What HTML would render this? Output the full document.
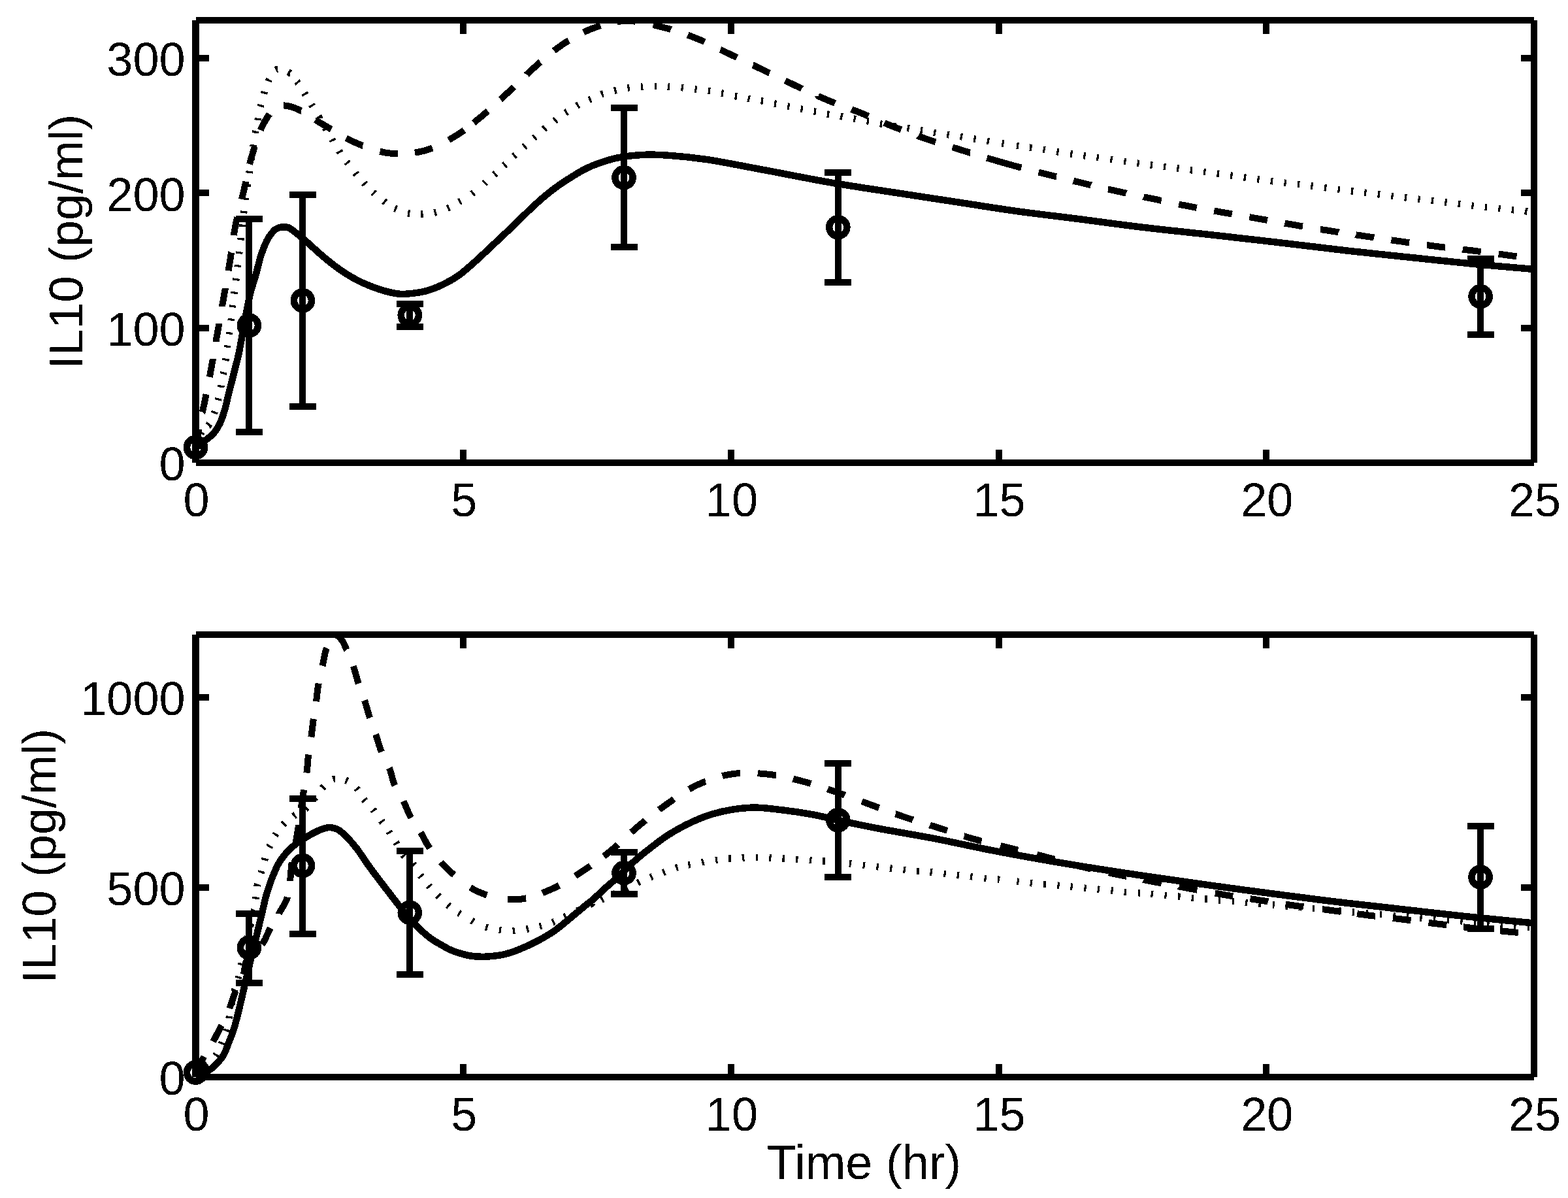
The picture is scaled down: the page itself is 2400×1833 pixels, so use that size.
<!DOCTYPE html>
<html><head><meta charset="utf-8"><title>IL10 plot</title>
<style>html,body{margin:0;padding:0;background:#fff;}body{width:2400px;height:1833px;overflow:hidden;}svg{display:block;}</style>
</head><body>
<svg width="2400" height="1833" viewBox="0 0 2400 1833" shape-rendering="crispEdges">
<style>.tl{font-family:'Liberation Sans', Arial, Helvetica, sans-serif;font-size:72px;fill:#000;filter:url(#crisp)}.yl{font-family:'Liberation Sans', Arial, Helvetica, sans-serif;font-size:73px;fill:#000;filter:url(#crisp)}.xl{font-family:'Liberation Sans', Arial, Helvetica, sans-serif;font-size:74px;fill:#000;filter:url(#crisp)}.c{fill:none;stroke:#000;stroke-width:10.5;stroke-linecap:butt;stroke-linejoin:round}.dt{stroke-width:10.5}</style>
<defs><filter id="crisp" x="0" y="0" width="100%" height="100%"><feComponentTransfer><feFuncA type="discrete" tableValues="0 1"/></feComponentTransfer></filter></defs>
<rect width="2400" height="1833" fill="#fff"/>
<path d="M299.5,685.0 C302.0,683.3 304.5,681.9 307.0,680.0 C309.8,677.9 312.4,675.6 315.4,673.0 C319.0,670.0 323.5,667.0 327.0,663.0 C330.8,658.5 334.2,652.9 337.0,647.0 C340.1,640.6 342.2,633.1 344.3,626.0 C346.4,618.8 347.8,611.2 349.6,604.0 C351.4,596.9 353.2,590.1 355.0,583.0 C356.8,575.9 358.6,568.6 360.4,561.4 C362.2,554.3 363.9,548.5 365.7,540.0 C368.4,527.5 371.3,508.8 374.2,493.5 C377.1,478.4 379.9,462.1 383.2,448.8 C385.9,437.9 389.1,429.2 391.9,419.3 C394.7,409.4 396.7,398.8 399.9,389.5 C402.8,381.0 406.6,371.5 409.8,365.7 C411.8,362.0 413.6,359.7 415.7,357.1 C417.6,354.8 419.3,352.4 421.7,350.8 C424.2,349.2 427.4,348.1 430.6,347.6 C434.0,347.1 437.9,347.1 441.3,348.2 C444.9,349.4 448.0,352.5 451.4,355.0 C455.2,357.8 459.6,361.7 463.0,364.5 C465.6,366.7 467.0,367.9 470.0,370.5 C475.6,375.4 485.8,385.0 493.8,391.8 C501.6,398.4 509.5,404.9 517.6,410.6 C525.4,416.1 532.9,421.2 541.4,425.8 C550.3,430.7 561.2,435.5 570.0,438.9 C577.2,441.7 583.1,443.7 590.0,445.5 C597.1,447.4 605.0,449.3 612.0,449.8 C618.3,450.3 623.6,449.7 630.0,449.0 C637.4,448.2 646.0,447.0 653.8,444.8 C661.8,442.5 669.8,439.2 677.6,435.5 C685.7,431.6 693.7,427.2 701.4,421.9 C709.6,416.2 716.9,409.4 725.2,402.1 C734.9,393.5 745.8,383.0 756.1,373.3 C766.6,363.5 777.2,353.5 787.6,343.6 C797.9,333.7 808.1,323.0 818.3,313.8 C827.7,305.2 837.0,297.2 846.5,290.0 C855.5,283.2 864.9,277.0 873.8,271.4 C881.9,266.3 889.5,261.5 897.6,257.6 C905.4,253.8 913.2,250.8 921.4,248.1 C929.8,245.3 937.8,242.8 947.6,241.0 C959.9,238.7 976.1,237.2 989.5,236.7 C1001.9,236.3 1012.0,237.0 1025.2,237.9 C1041.5,239.1 1059.8,240.9 1080.0,243.8 C1105.3,247.5 1135.2,253.7 1165.2,259.3 C1198.9,265.5 1236.6,273.3 1272.4,279.5 C1308.1,285.6 1345.3,290.9 1379.5,296.2 C1410.9,301.0 1440.3,305.5 1470.0,310.0 C1498.8,314.4 1526.0,318.9 1555.2,323.0 C1586.0,327.3 1618.7,330.9 1650.5,335.0 C1682.2,339.1 1712.5,343.4 1745.7,347.4 C1782.0,351.8 1823.2,355.9 1860.0,360.0 C1894.5,363.9 1926.7,367.5 1960.0,371.4 C1993.3,375.3 2026.7,379.5 2060.0,383.3 C2093.3,387.1 2126.7,390.5 2160.0,394.0 C2193.3,397.5 2227.7,401.2 2260.0,404.3 C2290.3,407.2 2318.7,409.4 2348.0,412.0" class="c"/>
<path d="M299.5,683.0L299.7,682.0L299.9,681.1L300.1,680.1L300.3,679.2L300.4,678.2L300.6,677.2L300.8,676.3L301.0,675.3L301.2,674.4L301.4,673.4L301.6,672.4L301.8,671.5L302.0,670.5L302.2,669.5L302.3,668.6L302.5,667.6L302.7,666.7L302.9,665.7L303.1,664.8L303.3,663.8L303.5,662.9L303.6,661.9L303.8,660.9L304.0,660.0L304.2,659.1L304.3,658.1L304.5,657.2L304.5,657.1M309.6,630.6L309.7,630.5L309.9,629.7L310.1,628.9L310.3,628.1L310.5,627.3L310.7,626.4L310.9,625.6L311.1,624.7L311.3,623.8L311.5,622.9L311.7,622.0L311.9,621.1L312.1,620.1L312.3,619.1L312.6,618.1L312.8,617.0L313.2,615.2L313.6,613.4L314.0,611.5L314.4,609.5L314.8,607.4L315.2,605.3L315.6,603.3M320.8,576.8L321.2,574.7L321.7,572.3L322.1,569.9L322.5,567.6L323.0,565.3L323.4,563.0L323.8,560.8L324.2,558.5L324.6,556.3L325.0,554.0L325.4,551.8L325.9,549.5L325.9,549.2M330.5,522.8L330.5,522.5L330.9,520.2L331.3,518.0L331.7,515.7L332.1,513.5L332.5,511.2L332.9,509.0L333.3,506.8L333.7,504.5L334.1,502.3L334.5,500.0L334.9,497.8L335.3,495.6L335.3,495.2M340.0,469.0L340.0,468.7L340.4,466.4L340.8,464.2L341.2,461.9L341.6,459.7L342.0,457.5L342.4,455.2L342.8,452.9L343.2,450.7L343.6,448.4L344.0,446.1L344.4,443.8L344.8,441.5L344.8,441.4M349.6,414.2L349.6,414.1L350.0,411.8L350.4,409.5L350.8,407.2L351.1,405.0L351.5,402.7L351.9,400.4L352.3,398.1L352.6,395.9L353.0,393.6L353.3,391.3L353.6,389.1L353.9,386.8L354.0,386.6M357.8,359.9L357.8,359.7L358.2,357.4L358.6,355.1L358.9,352.9L359.4,350.6L359.8,348.4L360.2,346.1L360.7,343.8L361.1,341.5L361.6,339.2L362.1,336.9L362.6,334.7L363.1,332.4M370.0,304.9L370.5,302.7L371.1,300.4L371.7,298.1L372.2,295.8L372.8,293.6L373.3,291.3L373.8,289.1L374.3,286.8L374.8,284.6L375.3,282.3L375.8,280.1L376.3,277.8L376.3,277.6M382.1,251.2L382.2,250.9L382.8,248.7L383.3,246.5L383.9,244.3L384.5,242.1L385.2,239.9L385.8,237.7L386.5,235.5L387.1,233.3L387.8,231.0L388.5,228.8L389.2,226.5L389.9,224.3M398.8,199.1L399.4,197.6L400.2,195.6L401.1,193.7L402.1,191.8L403.0,190.0L403.9,188.2L404.9,186.5L405.6,185.3L406.4,184.0L407.1,182.8L407.9,181.5L408.6,180.3L409.4,179.1L410.2,177.9L411.0,176.7L411.8,175.6L412.4,174.7M434.0,161.4L434.7,161.4L435.7,161.5L436.6,161.6L437.6,161.7L438.5,161.8L439.5,162.0L440.5,162.2L441.5,162.4L442.5,162.6L443.5,162.9L444.5,163.1L445.6,163.4L446.6,163.7L447.7,164.0L449.4,164.5L451.1,165.2L452.9,165.9L454.7,166.7L456.6,167.6L458.4,168.5L460.4,169.6L460.5,169.6M482.8,183.4L484.7,184.6L486.8,185.9L488.8,187.2L490.8,188.4L492.8,189.6L494.8,190.7L496.8,191.8L498.7,193.0L500.7,194.1L502.6,195.3L504.6,196.5L506.5,197.6L506.9,197.8M529.7,211.3L530.1,211.5L532.1,212.6L534.1,213.6L536.1,214.6L538.2,215.6L540.2,216.6L542.3,217.5L544.4,218.4L546.5,219.3L548.6,220.2L550.7,221.1L552.9,222.0L555.0,222.9L555.2,222.9M581.5,231.7L583.6,232.2L585.9,232.7L588.1,233.2L590.3,233.6L592.6,233.9L594.8,234.2L597.0,234.5L599.3,234.7L601.6,234.9L603.8,235.0L606.1,235.1L608.4,235.2L609.2,235.2M634.9,233.6L636.1,233.4L638.4,233.0L640.6,232.6L642.9,232.1L645.1,231.7L647.3,231.2L649.5,230.6L651.7,230.0L653.9,229.3L656.0,228.6L658.2,227.9L660.4,227.1L662.0,226.5M686.8,214.2L687.7,213.7L689.7,212.6L691.6,211.4L693.6,210.3L695.5,209.1L697.4,207.9L699.3,206.8L701.0,205.8L702.7,204.7L704.3,203.6L705.9,202.5L707.5,201.4L709.1,200.3L710.5,199.3M725.2,187.9L725.7,187.5L727.2,186.3L728.6,185.1L730.1,183.8L731.6,182.6L733.1,181.3L734.7,180.1L736.2,178.8L737.9,177.4L739.5,176.0L741.2,174.6L742.9,173.1L744.6,171.7L746.2,170.2L746.6,169.9M766.1,152.1L766.4,151.9L768.1,150.3L769.7,148.8L771.4,147.2L773.1,145.7L774.7,144.1L776.4,142.6L778.1,141.0L779.7,139.5L781.4,137.9L783.1,136.3L784.7,134.7L786.4,133.1L786.5,133.0M806.1,114.0L806.2,113.8L807.9,112.3L809.6,110.7L811.3,109.1L813.0,107.6L814.7,106.0L816.4,104.5L818.1,103.0L819.8,101.4L821.6,99.9L823.3,98.4L825.0,96.9L826.7,95.3L826.9,95.2M847.7,77.7L847.9,77.5L849.7,76.1L851.6,74.8L853.4,73.4L855.3,72.1L857.1,70.8L859.0,69.5L860.9,68.2L862.7,67.0L864.6,65.8L866.5,64.5L868.4,63.3L870.3,62.1L870.7,61.9M893.3,49.3L893.9,49.0L896.0,48.1L898.0,47.2L900.0,46.3L902.1,45.4L904.1,44.6L906.2,43.8L908.3,43.0L910.3,42.3L912.4,41.5L914.5,40.8L916.6,40.1L918.8,39.4L919.4,39.2M944.7,33.2L944.8,33.2L947.0,32.9L949.2,32.6L951.4,32.4L953.6,32.2L955.8,32.1L958.0,32.0L960.3,32.0L962.5,32.0L964.8,32.1L967.1,32.2L969.4,32.4L971.7,32.6L972.6,32.7M999.7,38.0L1001.9,38.5L1004.2,39.1L1006.5,39.7L1008.8,40.3L1011.0,40.8L1013.3,41.4L1015.5,42.0L1017.8,42.5L1020.0,43.1L1022.2,43.7L1024.4,44.4L1026.6,45.0L1026.8,45.1M1052.6,53.6L1052.8,53.7L1055.0,54.5L1057.2,55.3L1059.3,56.1L1061.4,56.9L1063.6,57.8L1065.7,58.6L1067.8,59.5L1069.9,60.3L1072.0,61.2L1074.1,62.1L1076.2,63.0L1078.3,64.0L1078.5,64.1M1102.6,75.8L1102.9,75.9L1104.9,76.9L1107.0,77.9L1109.0,78.9L1111.1,79.9L1113.1,80.9L1115.2,81.9L1117.3,82.9L1119.4,83.9L1121.4,84.9L1123.5,85.8L1125.6,86.8L1127.7,87.8L1127.9,87.9M1152.6,99.7L1152.7,99.7L1154.8,100.7L1156.9,101.7L1159.0,102.7L1161.0,103.7L1163.1,104.7L1165.2,105.7L1167.3,106.7L1169.3,107.7L1171.4,108.7L1173.4,109.7L1175.5,110.7L1177.5,111.7L1177.8,111.8M1201.9,123.5L1202.1,123.6L1204.2,124.6L1206.2,125.6L1208.3,126.6L1210.4,127.5L1212.4,128.5L1214.5,129.5L1216.6,130.5L1218.7,131.5L1220.8,132.5L1222.9,133.4L1225.0,134.4L1227.1,135.4L1227.2,135.5M1252.4,147.0L1252.4,147.1L1254.6,148.0L1256.7,148.9L1258.8,149.9L1260.9,150.8L1263.1,151.7L1265.2,152.6L1267.3,153.5L1269.4,154.4L1271.6,155.2L1273.7,156.1L1275.8,156.9L1278.0,157.7L1278.2,157.8M1303.4,167.3L1303.6,167.4L1305.8,168.2L1307.9,169.1L1310.0,169.9L1312.2,170.7L1314.3,171.6L1316.4,172.4L1318.5,173.2L1320.6,174.1L1322.7,175.0L1324.8,175.8L1326.8,176.7L1328.9,177.6L1329.3,177.8M1353.4,188.0L1353.8,188.2L1355.9,189.0L1358.0,189.9L1360.1,190.8L1362.2,191.6L1364.3,192.5L1366.4,193.3L1368.6,194.2L1370.7,195.0L1372.9,195.9L1375.1,196.7L1377.2,197.5L1379.4,198.4L1379.4,198.4M1405.6,208.2L1405.7,208.3L1407.9,209.1L1410.1,209.9L1412.3,210.6L1414.5,211.4L1416.6,212.2L1418.8,212.9L1420.9,213.6L1422.9,214.3L1424.9,215.0L1427.0,215.7L1429.0,216.3L1431.0,217.0L1432.1,217.3M1457.8,225.4L1459.3,225.8L1461.5,226.5L1463.6,227.1L1465.8,227.8L1468.0,228.5L1470.6,229.3L1473.3,230.2L1476.0,231.0L1478.8,231.8L1481.6,232.7L1484.4,233.6L1484.6,233.6M1510.5,241.6L1513.4,242.5L1516.4,243.4L1519.3,244.2L1522.3,245.1L1525.2,246.0L1528.1,246.8L1531.0,247.7L1533.8,248.5L1536.7,249.3L1539.5,250.1L1542.3,250.9L1545.1,251.7L1547.9,252.4L1550.7,253.2L1553.5,254.0L1556.3,254.7L1559.1,255.5L1561.9,256.2L1563.4,256.6M1589.6,263.5L1592.3,264.2L1595.0,264.9L1597.6,265.6L1600.3,266.2L1602.9,266.9L1605.2,267.5L1607.6,268.1L1609.9,268.7L1612.1,269.2L1614.4,269.8L1616.7,270.4L1616.8,270.4M1642.8,276.7L1643.1,276.8L1645.3,277.3L1647.5,277.9L1649.7,278.4L1652.0,278.9L1654.2,279.5L1656.4,280.0L1658.6,280.5L1660.9,281.1L1663.1,281.6L1665.3,282.1L1667.6,282.7L1669.8,283.2L1670.0,283.3M1696.3,289.5L1696.6,289.5L1698.8,290.1L1701.0,290.6L1703.3,291.1L1705.5,291.6L1707.8,292.1L1710.0,292.6L1712.2,293.1L1714.5,293.6L1716.7,294.1L1719.0,294.6L1721.2,295.1L1723.5,295.5L1723.7,295.6M1750.3,301.1L1750.5,301.2L1752.8,301.7L1755.0,302.1L1757.3,302.6L1759.5,303.1L1761.8,303.5L1764.0,304.0L1766.2,304.5L1768.4,304.9L1770.6,305.4L1772.8,305.9L1775.0,306.3L1777.1,306.8L1777.7,306.9M1804.3,312.5L1805.7,312.8L1808.0,313.3L1810.3,313.8L1812.7,314.2L1815.1,314.7L1817.6,315.2L1820.7,315.8L1823.8,316.4L1827.1,317.0L1830.3,317.6L1831.8,317.9M1858.3,322.7L1861.3,323.2L1864.8,323.8L1868.4,324.4L1872.0,325.1L1875.5,325.7L1879.1,326.3L1882.6,326.9L1885.8,327.5M1912.3,332.2L1913.6,332.4L1917.0,333.0L1920.5,333.6L1923.9,334.2L1927.4,334.8L1930.8,335.4L1934.3,336.0L1937.7,336.6L1939.9,337.0M1966.4,341.6L1967.7,341.9L1970.9,342.4L1974.1,342.9L1977.1,343.5L1980.2,344.0L1982.7,344.4L1985.1,344.8L1987.5,345.2L1989.9,345.7L1992.3,346.1L1994.0,346.3M2021.2,350.9L2021.6,350.9L2023.8,351.3L2026.0,351.7L2028.2,352.0L2030.5,352.4L2032.7,352.7L2035.0,353.1L2037.3,353.5L2039.5,353.8L2041.8,354.2L2044.1,354.5L2046.3,354.9L2048.6,355.2L2048.8,355.3M2075.5,359.3L2075.7,359.4L2078.0,359.7L2080.3,360.0L2082.5,360.4L2084.8,360.7L2087.0,361.1L2089.3,361.4L2091.6,361.7L2093.8,362.1L2096.1,362.4L2098.3,362.7L2100.6,363.1L2102.8,363.4L2103.1,363.5M2129.4,367.3L2129.8,367.4L2132.0,367.7L2134.3,368.0L2136.5,368.3L2138.8,368.7L2141.0,369.0L2143.3,369.3L2145.6,369.6L2147.9,369.9L2150.1,370.3L2152.4,370.6L2154.7,370.9L2157.0,371.3L2157.2,371.3M2184.2,375.1L2184.4,375.1L2186.7,375.4L2189.0,375.7L2191.2,376.0L2193.5,376.3L2195.8,376.6L2198.1,376.9L2200.4,377.2L2202.7,377.5L2204.9,377.8L2207.2,378.0L2209.5,378.3L2211.8,378.6L2212.0,378.6M2239.0,381.6L2239.2,381.7L2241.5,381.9L2243.8,382.2L2246.1,382.5L2248.3,382.7L2250.6,383.0L2252.9,383.3L2255.2,383.6L2257.5,383.9L2259.8,384.2L2262.1,384.5L2264.4,384.8L2266.8,385.1L2266.8,385.1M2293.7,388.6L2294.5,388.7L2296.7,389.0L2299.0,389.3L2301.2,389.6L2303.3,389.9L2305.5,390.2L2307.6,390.5L2309.4,390.7L2311.2,391.0L2312.9,391.2L2314.7,391.5L2316.4,391.7L2318.1,391.9L2319.8,392.2L2321.5,392.4" class="c" style="stroke-width:10"/>
<path d="M299.8,682.4L299.9,682.1L300.1,681.6L300.2,681.2L300.4,680.7L300.6,680.2L300.8,679.8L301.0,679.3L301.0,679.3M307.5,663.4L307.6,663.2L307.9,662.8L308.1,662.4L308.4,662.0L308.8,661.5L309.1,661.0L309.4,660.7M318.9,651.1L319.1,651.0L319.5,650.4L319.9,649.8L320.3,649.1L320.8,648.4L320.8,648.4M327.6,632.6L327.9,631.9L328.2,631.1L328.5,630.3L328.8,629.5M333.7,612.5L333.9,611.7L334.1,610.9L334.3,610.1L334.5,609.3M338.1,592.8L338.2,592.0L338.4,591.2L338.6,590.4L338.7,589.6M341.6,572.5L341.8,571.8L341.9,570.9L342.0,570.0L342.2,569.3M345.1,551.8L345.3,551.1L345.4,550.2L345.5,549.4L345.6,548.6M347.9,531.7L348.0,530.9L348.1,530.1L348.2,529.3L348.3,528.5M350.8,511.5L350.9,510.7L351.0,509.9L351.1,509.0L351.2,508.3M353.6,490.6L353.7,489.9L353.8,489.0L353.9,488.1L354.0,487.4M355.8,470.2L355.9,469.5L356.0,468.6L356.1,467.7L356.2,467.0M358.4,449.6L358.5,448.9L358.6,448.0L358.7,447.1L358.8,446.4M361.2,429.2L361.3,428.5L361.4,427.6L361.5,426.7L361.6,426.0M363.6,408.5L363.7,407.8L363.8,406.9L363.9,406.1L364.0,405.3M366.0,388.3L366.1,387.5L366.2,386.7L366.3,385.8L366.4,385.1M368.4,367.3L368.5,366.7L368.6,365.7L368.8,364.3L368.8,364.1M370.7,346.7L370.7,346.5L370.9,344.7L371.1,343.5M373.1,326.1L373.3,324.5L373.5,322.9M375.8,305.7L375.9,304.5L376.2,302.5M378.6,285.3L378.9,283.2L379.0,282.1M381.5,264.9L381.7,263.3L381.9,261.7M384.3,244.7L384.5,243.5L384.8,241.7L384.8,241.5M387.3,224.5L387.4,224.3L387.6,222.9L387.8,221.9L387.9,221.3M390.9,203.7L391.0,202.9L391.2,202.1L391.3,201.3L391.5,200.5M394.5,184.0L394.6,183.2L394.8,182.4L395.0,181.5L395.1,180.8M398.6,163.3L398.8,162.6L399.0,161.7L399.2,160.9L399.4,160.1M403.8,143.5L404.0,142.7L404.3,141.9L404.6,141.1L404.8,140.3M410.7,124.4L411.0,123.6L411.4,122.9L411.8,122.1L412.2,121.4M421.8,106.9L422.0,106.8L422.7,106.5L423.3,106.2L424.0,106.0L424.7,105.8L424.9,105.8M441.0,110.2L441.0,110.2L441.7,110.6L442.4,111.0L443.1,111.4L443.7,111.9L443.8,111.9M454.5,124.7L455.0,125.3L455.5,126.0L456.0,126.7L456.5,127.3M465.8,142.4L466.2,143.1L466.7,143.8L467.2,144.5L467.6,145.2M476.7,160.0L477.0,160.5L477.6,161.4L478.5,162.8M487.3,177.7L487.5,178.0L488.9,180.4L488.9,180.5M497.7,195.4L497.7,195.4L499.1,197.8L499.4,198.2M508.2,213.1L509.0,214.5L509.6,215.4L509.8,215.9M518.9,231.0L519.3,231.7L519.8,232.4L520.3,233.1L520.7,233.8M530.7,247.7L531.2,248.3L531.7,249.0L532.2,249.7L532.7,250.3M543.8,264.4L544.2,265.0L544.8,265.7L545.3,266.4L545.8,267.0M556.8,280.0L557.3,280.6L557.9,281.2L558.5,281.8L559.0,282.4M570.9,294.4L571.5,294.9L572.1,295.5L572.8,296.1L573.3,296.6M587.5,307.6L588.1,308.1L588.8,308.6L589.5,309.1L590.1,309.6M604.0,318.6L604.8,318.9L605.5,319.3L606.3,319.7L607.0,320.0M624.1,326.1L624.8,326.2L625.7,326.4L626.5,326.6L627.3,326.7M644.4,327.6L645.2,327.6L646.0,327.6L646.8,327.6L647.6,327.5M664.6,325.6L665.4,325.4L666.2,325.2L667.1,325.0L667.8,324.8M684.8,318.7L685.5,318.4L686.3,318.0L687.1,317.6L687.8,317.3M702.6,309.1L703.3,308.7L704.0,308.3L704.8,307.8L705.4,307.5M722.5,296.7L723.0,296.3L723.8,295.7L724.6,295.1L725.1,294.7M740.9,280.9L741.4,280.4L742.1,279.8L742.8,279.2L743.3,278.7M756.4,267.3L757.0,266.8L757.6,266.2L758.2,265.6L758.8,265.1M771.4,253.5L772.0,253.0L772.6,252.4L773.2,251.8L773.8,251.3M786.2,239.2L786.8,238.7L787.4,238.1L788.0,237.5L788.6,237.0M801.7,224.9L802.3,224.4L802.9,223.8L803.5,223.2L804.1,222.7M817.1,211.3L817.7,210.8L818.3,210.2L818.9,209.6L819.5,209.1M832.5,197.7L833.1,197.1L833.8,196.6L834.5,196.1L835.1,195.6M848.7,185.0L849.3,184.5L850.0,184.0L850.7,183.5L851.3,183.0M865.4,172.8L866.1,172.4L866.8,171.9L867.5,171.4L868.2,171.0M882.9,162.0L883.5,161.6L884.3,161.2L885.1,160.8L885.8,160.4M901.6,153.0L902.3,152.7L903.1,152.3L903.9,151.9L904.6,151.6M920.2,144.4L920.9,144.1L921.7,143.8L922.5,143.5L923.3,143.3M940.3,138.7L941.1,138.5L941.9,138.3L942.7,138.1L943.5,137.9M960.5,134.5L961.3,134.4L962.1,134.3L962.9,134.2L963.7,134.1M980.8,132.5L981.5,132.5L982.4,132.4L983.3,132.4L984.0,132.3M1001.5,131.9L1002.2,131.9L1003.1,131.9L1004.0,131.9L1004.7,131.9M1022.0,132.5L1022.7,132.6L1023.6,132.6L1024.5,132.7L1025.2,132.7M1042.7,134.1L1043.4,134.2L1044.3,134.3L1045.2,134.4L1045.9,134.5M1063.4,136.5L1064.1,136.6L1065.0,136.7L1065.9,136.8L1066.6,136.9M1083.9,138.8L1084.7,138.9L1085.5,139.0L1086.3,139.1L1087.1,139.2M1104.1,142.3L1104.9,142.4L1105.7,142.6L1106.6,142.8L1107.3,142.9M1124.8,147.1L1125.5,147.2L1126.4,147.4L1127.2,147.6L1128.0,147.7M1144.6,150.7L1145.4,150.9L1146.2,151.0L1147.0,151.1L1147.8,151.3M1164.8,154.2L1165.6,154.3L1166.4,154.5L1167.2,154.7L1168.0,154.8M1185.1,158.3L1185.9,158.4L1186.7,158.6L1187.5,158.8L1188.3,158.9M1205.3,162.6L1206.1,162.7L1206.9,162.9L1207.7,163.1L1208.5,163.2M1225.5,166.6L1226.3,166.7L1227.1,166.9L1227.9,167.1L1228.7,167.2M1245.8,170.4L1246.6,170.5L1247.4,170.7L1248.2,170.9L1249.0,171.0M1266.0,174.5L1266.8,174.6L1267.6,174.8L1268.4,175.0L1269.2,175.1M1286.3,178.0L1287.1,178.2L1287.9,178.3L1288.7,178.4L1289.5,178.6M1306.5,181.6L1307.3,181.7L1308.1,181.9L1308.9,182.0L1309.7,182.2M1326.7,185.2L1327.5,185.3L1328.3,185.5L1329.1,185.7L1329.9,185.8M1347.0,189.2L1347.6,189.3L1348.6,189.5L1350.0,189.8L1350.2,189.8M1367.8,192.7L1368.5,192.8L1370.3,193.1L1371.0,193.2M1388.6,195.9L1390.2,196.2L1391.8,196.5M1408.8,199.3L1410.5,199.6L1412.1,199.8M1429.1,202.6L1430.7,202.9L1432.3,203.2M1449.4,205.9L1451.0,206.1L1452.7,206.4M1469.8,209.0L1471.4,209.3L1473.0,209.6M1490.3,212.4L1491.8,212.6L1493.5,212.9L1493.5,212.9M1510.8,215.7L1512.4,216.0L1514.0,216.3M1533.4,219.2L1535.0,219.5L1536.6,219.7M1556.0,222.7L1557.6,222.9L1559.2,223.1M1576.2,225.7L1576.3,225.7L1578.0,226.0L1579.5,226.2M1596.5,228.8L1598.1,229.0L1599.7,229.3M1617.3,232.0L1619.0,232.3L1620.6,232.5M1638.2,235.3L1639.8,235.5L1641.4,235.7M1658.4,238.1L1660.0,238.3L1661.6,238.5M1678.6,240.8L1680.2,241.0L1681.8,241.2M1699.4,243.7L1701.0,243.9L1702.7,244.2M1720.3,246.7L1721.9,246.9L1723.5,247.1M1740.5,249.6L1742.2,249.8L1743.8,250.0M1760.8,252.4L1762.4,252.6L1764.0,252.8M1781.0,254.9L1782.6,255.1L1784.3,255.3M1801.3,257.4L1802.9,257.6L1804.5,257.8M1821.7,260.0L1822.8,260.1L1824.5,260.4L1825.0,260.4M1842.2,262.7L1843.8,262.9L1845.4,263.1M1862.7,265.5L1863.3,265.6L1865.8,266.0L1866.0,266.0M1883.2,268.5L1884.1,268.6L1886.5,268.9M1903.8,271.3L1905.0,271.5L1907.1,271.8M1924.3,274.1L1926.1,274.4L1927.6,274.6M1944.9,276.9L1947.3,277.3L1948.2,277.4M1965.5,279.6L1967.1,279.8L1968.7,280.0M1985.9,282.0L1986.4,282.0L1988.1,282.2L1989.2,282.3M2006.4,284.3L2008.0,284.5L2009.6,284.7M2027.0,287.0L2028.7,287.2L2030.3,287.5M2047.7,289.8L2049.3,290.0L2050.9,290.2M2067.9,292.2L2069.6,292.4L2071.2,292.6M2088.2,294.6L2089.8,294.8L2091.4,295.0M2108.8,297.2L2110.4,297.4L2112.0,297.6M2129.4,299.8L2131.0,300.0L2132.6,300.2M2149.9,302.2L2151.5,302.4L2153.1,302.6M2170.4,304.6L2172.0,304.8L2173.6,305.0M2190.8,306.9L2192.4,307.1L2194.1,307.3M2211.3,309.3L2212.9,309.5L2214.5,309.7M2231.8,312.0L2233.4,312.2L2235.1,312.4M2252.4,314.6L2254.0,314.8L2255.6,315.0M2272.9,316.8L2274.5,317.0L2276.1,317.1M2293.4,318.8L2295.0,319.0L2296.6,319.2M2313.7,321.0L2315.0,321.1L2316.8,321.3L2317.0,321.3M2334.1,323.1L2334.5,323.2L2335.7,323.3L2336.3,323.4L2337.0,323.4L2337.3,323.5" class="c" style="stroke-width:10.5"/>
<path d="M381.4,334.5 V661.0 M360.9,334.5 H401.9 M360.9,661.0 H401.9 M463.4,298.0 V622.0 M442.9,298.0 H483.9 M442.9,622.0 H483.9 M627.3,464.8 V500.0 M606.8,464.8 H647.8 M606.8,500.0 H647.8 M955.0,165.2 V378.3 M934.5,165.2 H975.5 M934.5,378.3 H975.5 M1282.8,263.9 V432.0 M1262.3,263.9 H1303.3 M1262.3,432.0 H1303.3 M2266.1,396.2 V511.9 M2245.6,396.2 H2286.6 M2245.6,511.9 H2286.6" stroke="#000" stroke-width="10" fill="none"/>
<circle cx="299.5" cy="684.5" r="13.6" stroke="#000" stroke-width="10.5" fill="none"/>
<circle cx="381.4" cy="498.0" r="13.6" stroke="#000" stroke-width="10.5" fill="none"/>
<circle cx="463.4" cy="459.8" r="13.6" stroke="#000" stroke-width="10.5" fill="none"/>
<circle cx="627.3" cy="482.2" r="13.6" stroke="#000" stroke-width="10.5" fill="none"/>
<circle cx="955.0" cy="271.7" r="13.6" stroke="#000" stroke-width="10.5" fill="none"/>
<circle cx="1282.8" cy="347.8" r="13.6" stroke="#000" stroke-width="10.5" fill="none"/>
<circle cx="2266.1" cy="453.6" r="13.6" stroke="#000" stroke-width="10.5" fill="none"/>
<path d="M299.5,31.0 H2348.0 M299.5,708.0 H2348.0 M299.5,31.0 V708.0 M2348.0,31.0 V708.0" stroke="#000" stroke-width="10.5" fill="none" stroke-linecap="butt"/>
<path d="M299.5,708.0 V687.5 M299.5,31.0 V51.5 M709.2,708.0 V687.5 M709.2,31.0 V51.5 M1118.9,708.0 V687.5 M1118.9,31.0 V51.5 M1528.6,708.0 V687.5 M1528.6,31.0 V51.5 M1938.3,708.0 V687.5 M1938.3,31.0 V51.5 M2348.0,708.0 V687.5 M2348.0,31.0 V51.5 M299.5,708.0 H320.0 M2348.0,708.0 H2327.5 M299.5,501.7 H320.0 M2348.0,501.7 H2327.5 M299.5,295.3 H320.0 M2348.0,295.3 H2327.5 M299.5,89.0 H320.0 M2348.0,89.0 H2327.5" stroke="#000" stroke-width="10.0" fill="none"/>
<text x="300.5" y="790.0" text-anchor="middle" class="tl">0</text>
<text x="710.2" y="790.0" text-anchor="middle" class="tl">5</text>
<text x="1119.9" y="790.0" text-anchor="middle" class="tl">10</text>
<text x="1529.6" y="790.0" text-anchor="middle" class="tl">15</text>
<text x="1939.3" y="790.0" text-anchor="middle" class="tl">20</text>
<text x="2349.0" y="790.0" text-anchor="middle" class="tl">25</text>
<text x="283.5" y="735.3" text-anchor="end" class="tl">0</text>
<text x="283.5" y="529.0" text-anchor="end" class="tl">100</text>
<text x="283.5" y="322.6" text-anchor="end" class="tl">200</text>
<text x="283.5" y="116.3" text-anchor="end" class="tl">300</text>
<text transform="translate(126.3,369.5) rotate(-90)" text-anchor="middle" class="yl">IL10 (pg/ml)</text>
<path d="M299.5,1641.0 C302.3,1641.2 305.4,1641.7 308.0,1641.5 C310.3,1641.3 312.1,1641.0 314.3,1640.2 C317.2,1639.1 320.7,1637.1 323.8,1634.8 C327.4,1632.1 331.1,1628.4 334.3,1624.8 C337.5,1621.1 340.5,1617.2 342.9,1612.9 C345.4,1608.5 346.9,1603.4 348.8,1598.6 C350.7,1593.8 352.7,1589.1 354.5,1584.3 C356.2,1579.6 357.6,1575.6 359.3,1570.0 C361.6,1562.3 364.1,1551.8 366.5,1542.0 C369.1,1531.2 371.8,1519.2 374.4,1508.0 C376.9,1497.2 379.6,1486.0 382.0,1476.0 C384.1,1467.3 385.8,1459.7 387.8,1451.5 C389.8,1443.4 391.7,1435.6 393.8,1427.1 C396.0,1418.0 398.4,1408.1 400.7,1398.6 C403.0,1389.1 405.0,1378.8 407.5,1370.0 C409.7,1362.3 412.3,1354.7 414.5,1348.5 C416.2,1343.7 417.7,1340.2 419.5,1336.0 C421.4,1331.5 423.2,1326.8 425.7,1322.4 C428.3,1317.8 431.8,1312.8 434.8,1309.0 C437.2,1305.9 439.1,1303.8 441.9,1301.0 C445.3,1297.6 449.5,1293.9 454.0,1290.5 C459.1,1286.7 465.3,1282.8 471.0,1279.5 C476.4,1276.4 481.6,1273.3 487.1,1271.0 C492.4,1268.8 498.0,1266.3 503.2,1266.1 C508.0,1265.9 512.8,1267.2 517.1,1269.3 C521.8,1271.6 525.6,1275.8 530.0,1280.0 C535.2,1285.1 541.0,1291.8 546.0,1298.2 C551.0,1304.7 555.6,1312.3 560.0,1318.6 C563.9,1324.1 566.6,1327.9 571.0,1333.8 C577.3,1342.2 586.5,1354.2 594.3,1364.3 C602.1,1374.4 609.9,1384.9 617.8,1394.3 C625.2,1403.1 632.6,1411.7 640.0,1419.0 C646.6,1425.5 653.6,1431.7 660.0,1436.4 C665.2,1440.2 670.0,1442.6 675.0,1445.5 C680.0,1448.3 684.9,1451.4 690.0,1453.6 C694.9,1455.8 700.0,1457.3 705.0,1458.8 C710.0,1460.3 714.5,1461.7 720.0,1462.5 C726.4,1463.5 733.2,1464.0 740.9,1463.8 C750.4,1463.5 761.9,1462.6 772.7,1460.0 C784.6,1457.1 797.2,1451.9 809.1,1446.4 C821.4,1440.7 833.7,1434.3 845.5,1426.4 C858.0,1418.1 871.8,1405.4 881.8,1397.3 C888.9,1391.5 895.5,1385.9 900.0,1382.3 C902.6,1380.2 903.6,1379.7 906.2,1377.5 C911.1,1373.4 920.7,1363.9 926.4,1358.8 C930.5,1355.1 932.5,1353.6 937.1,1349.5 C946.0,1341.5 965.3,1322.4 975.2,1313.8 C981.2,1308.6 984.2,1306.3 990.0,1301.8 C998.2,1295.4 1009.7,1286.2 1019.8,1279.5 C1029.5,1273.1 1038.6,1267.7 1049.5,1262.3 C1061.8,1256.3 1075.0,1249.9 1090.0,1245.6 C1107.6,1240.6 1130.3,1236.5 1149.0,1235.7 C1165.7,1234.9 1180.8,1237.5 1196.7,1239.3 C1212.6,1241.1 1229.4,1243.6 1244.3,1246.4 C1257.6,1248.9 1268.0,1251.8 1281.9,1254.8 C1299.0,1258.5 1318.1,1262.6 1339.5,1266.7 C1366.2,1271.9 1400.3,1277.3 1430.0,1283.0 C1458.9,1288.6 1486.0,1294.8 1515.2,1300.5 C1546.0,1306.5 1578.7,1312.4 1610.5,1317.9 C1642.2,1323.4 1675.9,1328.7 1705.7,1333.3 C1732.0,1337.4 1754.0,1340.5 1780.0,1344.3 C1808.6,1348.4 1840.0,1352.9 1870.0,1357.0 C1900.0,1361.1 1929.6,1365.1 1960.0,1369.0 C1991.3,1373.1 2023.4,1377.2 2055.2,1381.0 C2086.9,1384.8 2118.7,1388.1 2150.5,1391.7 C2182.2,1395.3 2213.4,1399.0 2245.7,1402.4 C2279.2,1405.9 2313.9,1409.1 2348.0,1412.5" class="c"/>
<path d="M299.5,1640.0L299.7,1639.6L300.0,1639.2L300.2,1638.8L300.4,1638.3L300.6,1637.9L300.9,1637.5L301.1,1637.1L301.3,1636.7L301.5,1636.3L301.8,1635.9L302.0,1635.5L302.2,1635.1L302.4,1634.7L302.7,1634.3L302.9,1633.8L303.1,1633.4L303.3,1633.0L303.6,1632.6L303.8,1632.2L304.0,1631.7L304.3,1631.3L304.5,1630.9L304.8,1630.4L305.0,1630.0L305.3,1629.5L305.6,1629.0L305.8,1628.5L306.1,1628.0L306.4,1627.5L306.6,1627.0L306.9,1626.5L307.2,1626.0L307.5,1625.4L307.8,1624.9L308.0,1624.4L308.3,1623.9L308.6,1623.4L308.9,1622.8L309.2,1622.3L309.5,1621.7L309.8,1621.2L310.1,1620.6L310.4,1620.1L310.7,1619.5L311.1,1618.9L311.4,1618.3L311.8,1617.7L312.1,1617.1L312.3,1616.7M326.2,1593.6L326.4,1593.2L327.0,1592.2L327.5,1591.2L328.1,1590.1L328.6,1589.1L329.2,1588.1L329.8,1587.0L330.3,1586.0L330.8,1584.9L331.4,1583.9L331.9,1582.9L332.5,1581.8L333.0,1580.8L333.5,1579.7L334.1,1578.7L334.6,1577.6L335.1,1576.6L335.7,1575.5L336.2,1574.5L336.7,1573.4L337.2,1572.4L337.7,1571.3L338.3,1570.3L338.8,1569.2L339.1,1568.7M351.2,1543.0L351.5,1542.1L352.0,1541.0L352.4,1539.9L352.8,1538.8L353.2,1537.7L353.6,1536.6L354.0,1535.4L354.4,1534.3L354.8,1533.2L355.1,1532.0L355.5,1530.9L355.9,1529.8L356.3,1528.7L356.6,1527.5L357.0,1526.4L357.4,1525.3L357.8,1524.1L358.2,1523.0L358.6,1521.9L359.0,1520.8L359.4,1519.7L359.8,1518.6L360.3,1517.5L360.6,1516.6M372.7,1491.1L372.8,1490.9L373.1,1489.9L373.3,1489.0L373.5,1488.0L373.7,1487.1L373.9,1486.1L374.1,1485.2L374.2,1484.2L374.3,1483.3L374.4,1482.3L374.6,1481.4L374.7,1480.4L374.8,1479.5L375.0,1478.5L375.1,1477.6L375.3,1476.6L375.5,1475.7L375.7,1474.8L376.0,1473.9L376.2,1472.9L376.6,1472.0L376.9,1471.1L377.3,1470.2L377.8,1469.3L378.4,1468.2L379.1,1467.1L379.9,1466.1L380.8,1465.0L381.0,1464.8M401.1,1445.0L401.4,1444.6L402.0,1443.7L402.7,1442.7L403.3,1441.7L403.8,1440.8L404.4,1439.8L404.9,1438.8L405.4,1437.9L405.9,1436.9L406.4,1435.9L406.8,1434.9L407.3,1433.9L407.7,1432.9L408.1,1431.9L408.6,1431.0L409.0,1430.0L409.4,1429.0L409.9,1428.0L410.3,1427.0L410.8,1426.0L411.2,1425.0L411.7,1424.0L412.2,1423.1L412.7,1422.1L413.2,1421.1L413.7,1420.1M427.1,1397.6L427.1,1397.5L427.7,1396.5L428.2,1395.5L428.8,1394.5L429.4,1393.5L430.0,1392.5L430.6,1391.5L431.2,1390.5L431.8,1389.5L432.4,1388.5L433.0,1387.5L433.6,1386.5L434.2,1385.4L434.7,1384.4L435.3,1383.4L435.8,1382.4L436.4,1381.4L436.9,1380.3L437.4,1379.3L437.9,1378.2L438.4,1377.2L438.8,1376.1L439.2,1375.1L439.6,1374.0L440.0,1372.9L440.0,1372.8M444.0,1347.7L444.0,1347.2L444.2,1346.1L444.3,1345.0L444.4,1344.0L444.5,1343.1L444.6,1342.1L444.7,1341.2L444.8,1340.3L444.9,1339.4L444.9,1338.5L445.0,1337.6L445.1,1336.7L445.1,1335.9L445.2,1335.0L445.3,1334.1L445.3,1333.2L445.4,1332.3L445.5,1331.4L445.5,1330.5L445.6,1329.6L445.7,1328.6L445.8,1327.7L445.9,1326.7L446.0,1325.7L446.1,1324.6L446.3,1323.6L446.4,1322.5L446.6,1320.9L446.8,1319.9M452.5,1289.7L452.8,1288.1L453.2,1286.0L453.6,1284.0L454.0,1282.0L454.3,1280.0L454.7,1278.0L455.0,1276.0L455.3,1274.0L455.6,1272.0L456.0,1270.0L456.3,1268.0L456.6,1266.0L456.9,1264.0L457.1,1262.1M460.8,1236.1L460.8,1235.9L461.1,1234.0L461.4,1232.0L461.7,1230.0L462.0,1228.0L462.3,1226.1L462.6,1224.1L462.9,1222.1L463.3,1220.1L463.6,1218.1L463.9,1216.1L464.3,1214.1L464.6,1212.1L465.0,1210.1L465.3,1208.4M469.4,1182.5L469.5,1182.0L469.7,1180.7L469.8,1179.5L469.9,1178.3L470.1,1177.1L470.2,1176.0L470.3,1174.8L470.4,1173.7L470.5,1172.6L470.6,1171.4L470.7,1170.3L470.8,1169.3L470.9,1168.2L471.0,1167.1L471.0,1166.0L471.1,1165.0L471.2,1163.9L471.3,1162.8L471.4,1161.7L471.5,1160.7L471.6,1159.6L471.7,1158.5L471.8,1157.4L472.0,1156.3L472.1,1155.2L472.2,1154.6M476.3,1127.8L476.5,1126.7L476.6,1125.6L476.8,1124.4L476.9,1123.2L477.1,1122.1L477.2,1120.9L477.4,1119.7L477.5,1118.6L477.7,1117.4L477.8,1116.2L478.0,1115.1L478.1,1113.9L478.2,1112.7L478.4,1111.5L478.5,1110.4L478.7,1109.2L478.8,1108.0L479.0,1106.9L479.1,1105.7L479.3,1104.5L479.4,1103.4L479.6,1102.2L479.7,1101.1L479.9,1100.0M484.0,1073.3L484.0,1073.1L484.2,1072.0L484.3,1070.8L484.5,1069.7L484.6,1068.5L484.7,1067.4L484.9,1066.3L485.0,1065.1L485.2,1064.0L485.3,1062.8L485.4,1061.7L485.5,1060.5L485.7,1059.4L485.8,1058.2L486.0,1057.1L486.1,1056.0L486.2,1054.8L486.4,1053.7L486.5,1052.5L486.7,1051.4L486.9,1050.2L487.0,1049.1L487.2,1048.0L487.4,1046.8L487.6,1045.7L487.6,1045.5M493.6,1018.8L493.9,1017.8L494.1,1016.6L494.3,1015.5L494.6,1014.3L494.8,1013.1L495.0,1011.9L495.3,1010.8L495.5,1009.6L495.7,1008.4L495.9,1007.2L496.2,1006.1L496.4,1004.9L496.6,1003.7L496.9,1002.6L497.1,1001.4L497.4,1000.3L497.7,999.1L498.0,998.0L498.3,996.9L498.6,995.8L499.0,994.7L499.3,993.6L499.7,992.5L500.1,991.6M514.8,971.5L514.9,971.5L515.3,971.8L515.8,972.1L516.2,972.4L516.7,972.7L517.1,973.0L517.5,973.4L518.0,973.8L518.4,974.2L518.8,974.6L519.2,975.0L519.7,975.4L520.1,975.9L520.5,976.3L520.9,976.7L521.3,977.2L521.6,977.6L522.0,978.0L522.4,978.5L522.8,979.0L523.3,979.6L523.7,980.1L524.0,980.7L524.4,981.3L524.8,981.9L525.1,982.5L525.5,983.2L525.8,983.8L526.2,984.5L526.5,985.2L526.8,985.9L527.2,986.6L527.5,987.3L527.8,988.0L528.2,988.7L528.5,989.4L528.8,990.2L529.1,990.9L529.5,991.7L529.8,992.4L530.2,993.2L530.5,993.9L530.6,994.0M540.7,1019.2L541.0,1020.0L541.4,1021.1L541.7,1022.3L542.1,1023.4L542.5,1024.5L542.8,1025.7L543.1,1026.8L543.5,1028.0L543.8,1029.1L544.2,1030.3L544.5,1031.4L544.8,1032.6L545.1,1033.7L545.5,1034.9L545.8,1036.1L546.1,1037.2L546.5,1038.4L546.8,1039.5L547.1,1040.7L547.5,1041.8L547.8,1042.9L548.2,1044.1L548.5,1045.2L548.8,1046.0M558.0,1071.6L558.3,1072.4L558.6,1073.5L559.0,1074.7L559.3,1075.8L559.7,1076.9L560.0,1078.1L560.4,1079.2L560.7,1080.4L561.0,1081.5L561.4,1082.7L561.7,1083.8L562.1,1085.0L562.4,1086.2L562.7,1087.3L563.1,1088.5L563.4,1089.6L563.7,1090.8L564.1,1091.9L564.4,1093.1L564.8,1094.2L565.1,1095.3L565.5,1096.5L565.8,1097.6L566.1,1098.4M575.1,1123.8L575.5,1124.8L575.8,1125.9L576.2,1127.0L576.6,1128.1L576.9,1129.2L577.3,1130.4L577.6,1131.5L578.0,1132.6L578.3,1133.7L578.7,1134.9L579.0,1136.0L579.4,1137.1L579.7,1138.3L580.1,1139.4L580.4,1140.5L580.8,1141.6L581.2,1142.8L581.6,1143.9L581.9,1145.0L582.3,1146.1L582.7,1147.2L583.1,1148.3L583.6,1149.4L584.0,1150.4M595.9,1175.3L596.0,1175.5L596.4,1176.6L596.8,1177.6L597.2,1178.7L597.5,1179.8L597.9,1180.9L598.2,1182.0L598.5,1183.1L598.9,1184.2L599.2,1185.3L599.5,1186.4L599.8,1187.5L600.1,1188.7L600.4,1189.8L600.7,1190.9L601.0,1192.0L601.3,1193.1L601.6,1194.2L602.0,1195.3L602.3,1196.4L602.7,1197.4L603.1,1198.5L603.4,1199.6L603.9,1200.7L604.3,1201.7L604.4,1201.9M617.6,1225.9L617.9,1226.6L618.4,1227.6L618.9,1228.7L619.4,1229.8L619.9,1230.9L620.4,1232.0L620.9,1233.1L621.4,1234.2L621.8,1235.4L622.3,1236.5L622.8,1237.6L623.2,1238.7L623.7,1239.8L624.2,1241.0L624.7,1242.1L625.1,1243.2L625.6,1244.3L626.1,1245.4L626.6,1246.5L627.1,1247.5L627.7,1248.6L628.2,1249.6L628.7,1250.7L629.1,1251.4M643.9,1273.6L644.2,1274.1L644.8,1275.1L645.4,1276.1L645.9,1277.1L646.5,1278.1L647.1,1279.2L647.6,1280.2L648.2,1281.2L648.7,1282.3L649.3,1283.3L649.8,1284.4L650.4,1285.4L650.9,1286.5L651.5,1287.5L652.1,1288.6L652.6,1289.6L653.2,1290.7L653.8,1291.7L654.5,1292.8L655.1,1293.9L655.8,1294.9L656.5,1296.0L657.2,1297.0L657.8,1297.9M674.7,1319.2L675.2,1319.8L676.4,1321.0L677.6,1322.3L678.9,1323.6L680.1,1324.8L681.4,1326.1L682.7,1327.3L684.0,1328.6L685.6,1330.1L687.3,1331.7L689.1,1333.3L690.8,1334.9L692.6,1336.6L694.4,1338.2L694.9,1338.6M719.9,1357.9L720.7,1358.4L722.9,1359.7L725.1,1361.0L727.3,1362.2L729.5,1363.3L731.7,1364.3L734.0,1365.3L736.3,1366.2L738.6,1367.1L741.0,1368.0L743.4,1368.9L745.3,1369.5M776.9,1375.9L778.9,1376.0L781.4,1376.2L783.9,1376.3L786.4,1376.3L788.8,1376.3L791.2,1376.2L793.5,1376.1L795.7,1375.9L798.0,1375.6L800.2,1375.3L802.5,1374.9L804.7,1374.4L804.8,1374.4M830.3,1366.3L830.9,1366.0L833.1,1365.1L835.2,1364.3L837.3,1363.4L839.4,1362.5L841.5,1361.6L843.6,1360.7L845.7,1359.8L847.8,1358.8L849.8,1357.9L851.9,1356.9L853.9,1355.8L855.8,1354.8M880.5,1340.2L881.6,1339.5L883.6,1338.2L885.5,1337.0L887.4,1335.8L889.3,1334.5L891.2,1333.3L893.1,1332.1L894.9,1330.9L896.7,1329.7L898.6,1328.4L900.4,1327.2L902.2,1326.0L903.9,1324.8M924.2,1310.1L925.3,1309.3L927.0,1307.9L928.8,1306.6L930.5,1305.2L932.3,1303.8L934.0,1302.4L935.8,1300.9L937.6,1299.4L939.4,1297.9L941.2,1296.4L943.0,1294.8L944.8,1293.2L945.8,1292.3M966.3,1273.5L967.9,1272.1L969.7,1270.5L971.5,1268.9L973.3,1267.4L975.1,1265.8L976.9,1264.3L978.7,1262.8L980.4,1261.4L982.2,1259.9L983.9,1258.5L985.7,1257.1L987.5,1255.6L987.7,1255.4M1008.8,1239.0L1008.8,1239.0L1010.6,1237.6L1012.4,1236.3L1014.3,1235.0L1016.1,1233.6L1017.9,1232.3L1019.8,1231.0L1021.7,1229.7L1023.6,1228.3L1025.5,1227.0L1027.4,1225.7L1029.3,1224.3L1031.2,1223.0L1031.6,1222.7M1054.7,1207.6L1056.7,1206.5L1058.7,1205.4L1060.7,1204.3L1062.8,1203.2L1064.8,1202.2L1066.9,1201.2L1069.0,1200.2L1071.1,1199.3L1073.2,1198.4L1075.3,1197.5L1077.4,1196.6L1079.5,1195.7L1080.0,1195.6M1105.6,1187.3L1105.9,1187.2L1108.1,1186.7L1110.4,1186.2L1112.6,1185.7L1114.8,1185.3L1117.1,1184.9L1119.3,1184.5L1121.5,1184.2L1123.8,1183.9L1126.0,1183.6L1128.3,1183.4L1130.6,1183.2L1132.8,1183.1L1133.2,1183.1M1160.0,1183.3L1160.3,1183.4L1162.6,1183.5L1164.9,1183.7L1167.2,1183.9L1169.5,1184.1L1171.7,1184.3L1174.0,1184.5L1176.3,1184.7L1178.5,1185.0L1180.8,1185.3L1183.0,1185.6L1185.3,1185.9L1187.5,1186.3L1187.9,1186.3M1214.0,1191.8L1214.3,1191.9L1216.5,1192.4L1218.8,1192.9L1221.0,1193.5L1223.2,1194.1L1225.4,1194.6L1227.6,1195.2L1229.8,1195.8L1232.0,1196.4L1234.2,1197.0L1236.4,1197.6L1238.6,1198.2L1240.8,1198.9L1241.1,1199.0M1266.8,1207.3L1267.0,1207.4L1269.1,1208.2L1271.3,1208.9L1273.5,1209.7L1275.7,1210.4L1277.8,1211.2L1280.0,1211.9L1282.2,1212.7L1284.3,1213.4L1286.5,1214.2L1288.7,1214.9L1290.9,1215.7L1293.0,1216.5L1293.2,1216.6M1319.2,1226.3L1321.1,1227.0L1323.3,1227.8L1325.4,1228.6L1327.6,1229.4L1329.7,1230.2L1331.9,1231.0L1334.1,1231.8L1336.2,1232.6L1338.4,1233.4L1340.6,1234.2L1342.7,1235.0L1344.9,1235.8L1345.5,1236.0M1370.8,1245.4L1370.9,1245.4L1373.1,1246.2L1375.3,1247.0L1377.5,1247.7L1379.6,1248.5L1381.8,1249.3L1384.0,1250.0L1386.2,1250.7L1388.4,1251.5L1390.6,1252.2L1392.7,1252.9L1394.9,1253.6L1397.1,1254.3L1397.3,1254.4M1423.3,1262.5L1423.5,1262.6L1425.7,1263.3L1427.9,1263.9L1430.1,1264.6L1432.3,1265.3L1434.5,1266.0L1436.7,1266.7L1438.9,1267.4L1441.1,1268.1L1443.2,1268.8L1445.4,1269.5L1447.6,1270.2L1449.7,1270.9L1450.0,1271.0M1475.6,1279.3L1475.7,1279.3L1477.9,1280.0L1480.1,1280.7L1482.3,1281.4L1484.5,1282.0L1486.8,1282.7L1489.0,1283.3L1491.3,1284.0L1493.7,1284.6L1496.0,1285.2L1498.4,1285.9L1500.7,1286.5L1502.5,1286.9M1531.2,1293.9L1531.8,1294.1L1534.2,1294.7L1536.6,1295.3L1539.0,1295.8L1541.4,1296.4L1543.8,1297.0L1546.2,1297.6L1548.6,1298.2L1551.0,1298.8L1553.4,1299.4L1555.7,1300.0L1558.1,1300.6L1558.4,1300.6M1587.1,1307.7L1589.2,1308.3L1591.6,1308.9L1593.9,1309.5L1596.3,1310.1L1598.6,1310.7L1601.0,1311.3L1603.3,1311.9L1605.5,1312.5L1607.7,1313.1L1610.0,1313.7L1612.2,1314.3L1614.1,1314.8M1642.6,1322.8L1644.7,1323.4L1646.9,1324.0L1649.1,1324.5L1651.3,1325.1L1653.5,1325.7L1655.7,1326.2L1658.0,1326.7L1660.2,1327.3L1662.5,1327.8L1664.7,1328.3L1667.0,1328.9L1669.3,1329.4L1669.8,1329.5M1697.0,1335.3L1699.1,1335.7L1701.4,1336.2L1703.7,1336.7L1705.9,1337.2L1708.2,1337.6L1710.5,1338.1L1712.7,1338.6L1715.0,1339.0L1717.2,1339.5L1719.4,1339.9L1721.7,1340.4L1723.9,1340.9L1724.5,1341.0M1750.4,1346.1L1750.6,1346.2L1752.8,1346.6L1755.1,1347.1L1757.3,1347.5L1759.5,1347.9L1761.8,1348.4L1764.0,1348.8L1766.3,1349.2L1768.5,1349.7L1770.8,1350.1L1773.1,1350.5L1775.3,1351.0L1777.6,1351.4L1777.9,1351.5M1804.8,1356.5L1804.9,1356.6L1807.2,1357.0L1809.5,1357.4L1811.8,1357.8L1814.0,1358.3L1816.3,1358.7L1818.6,1359.1L1820.9,1359.5L1823.2,1360.0L1825.5,1360.4L1827.8,1360.8L1830.1,1361.2L1832.3,1361.7L1832.4,1361.7M1859.8,1366.7L1859.9,1366.7L1862.2,1367.1L1864.5,1367.5L1866.7,1367.9L1869.0,1368.3L1871.3,1368.7L1873.6,1369.1L1875.9,1369.5L1878.1,1369.8L1880.4,1370.2L1882.6,1370.6L1884.9,1370.9L1887.2,1371.3L1887.4,1371.3M1913.5,1375.2L1914.2,1375.3L1916.4,1375.7L1918.6,1376.0L1920.8,1376.3L1923.0,1376.6L1925.1,1377.0L1927.3,1377.3L1929.3,1377.6L1931.3,1377.9L1933.2,1378.2L1935.1,1378.5L1937.0,1378.8L1938.9,1379.1L1940.8,1379.4L1941.1,1379.5M1967.6,1383.6L1969.5,1383.9L1971.5,1384.2L1973.6,1384.5L1976.1,1384.9L1978.6,1385.2L1981.1,1385.6L1983.7,1385.9L1986.3,1386.3L1989.0,1386.6L1991.6,1387.0L1994.3,1387.3L1995.3,1387.5M2024.0,1391.2L2024.3,1391.2L2027.0,1391.5L2029.6,1391.9L2032.2,1392.2L2034.8,1392.6L2037.4,1392.9L2039.7,1393.2L2042.0,1393.5L2044.3,1393.8L2046.6,1394.1L2048.9,1394.4L2051.1,1394.7L2051.8,1394.8M2077.1,1398.2L2077.7,1398.3L2079.9,1398.6L2082.1,1398.9L2084.3,1399.1L2086.5,1399.4L2088.8,1399.7L2091.0,1400.0L2093.3,1400.3L2095.5,1400.6L2097.8,1400.8L2100.0,1401.1L2102.3,1401.4L2104.5,1401.7L2104.9,1401.7M2131.8,1404.9L2133.9,1405.1L2136.1,1405.4L2138.4,1405.7L2140.7,1405.9L2142.9,1406.2L2145.2,1406.5L2147.5,1406.8L2149.8,1407.1L2152.1,1407.4L2154.3,1407.6L2156.6,1407.9L2158.9,1408.2L2159.6,1408.3M2186.6,1411.8L2188.7,1412.1L2191.0,1412.4L2193.3,1412.7L2195.5,1412.9L2197.8,1413.2L2200.0,1413.5L2202.1,1413.8L2204.2,1414.0L2206.3,1414.3L2208.4,1414.5L2210.5,1414.8L2212.6,1415.1L2214.4,1415.3M2240.0,1418.4L2241.4,1418.5L2243.6,1418.8L2245.7,1419.0L2247.8,1419.3L2250.0,1419.5L2252.4,1419.8L2254.8,1420.0L2257.3,1420.3L2259.8,1420.6L2262.3,1420.8L2264.8,1421.1L2267.4,1421.4L2267.8,1421.4M2296.0,1424.3L2297.9,1424.5L2300.3,1424.7L2302.6,1424.9L2305.0,1425.2L2307.3,1425.4L2309.5,1425.6L2311.3,1425.8L2313.0,1425.9L2314.7,1426.1L2316.4,1426.2L2318.1,1426.4L2319.7,1426.5L2321.3,1426.7L2322.9,1426.8L2323.9,1426.9" class="c" style="stroke-width:10"/>
<path d="M299.5,1640.0L300.0,1639.6L300.4,1639.2M314.0,1628.6L314.2,1628.5L314.6,1628.2L315.0,1627.9L315.4,1627.6L315.9,1627.3L316.3,1627.1L316.7,1626.8M329.7,1615.6L330.0,1615.2L330.4,1614.8L330.7,1614.3L331.1,1613.7L331.5,1613.1L331.6,1612.9M338.7,1597.6L339.0,1596.9L339.3,1596.1L339.6,1595.3L339.9,1594.6M345.9,1578.0L346.2,1577.2L346.4,1576.4L346.6,1575.6L346.8,1574.8M350.4,1558.0L350.5,1557.2L350.7,1556.4L350.9,1555.6L351.0,1554.8M354.7,1537.6L354.8,1536.8L355.0,1536.0L355.2,1535.2L355.3,1534.3M358.7,1517.1L358.8,1516.8L359.0,1516.0L359.2,1515.1L359.4,1514.3L359.6,1513.9M364.6,1497.0L364.8,1496.3L365.0,1495.4L365.2,1494.6L365.4,1493.8M368.9,1476.9L369.1,1476.1L369.3,1475.3L369.5,1474.5L369.7,1473.7M373.6,1456.5L373.8,1455.9L374.0,1455.0L374.2,1454.1L374.4,1453.3M378.5,1436.1L378.6,1435.7L378.8,1434.9L379.0,1434.0L379.2,1433.2L379.3,1432.9M383.5,1415.8L383.6,1415.7L383.8,1414.8L384.0,1414.0L384.2,1413.2L384.4,1412.6M388.7,1395.5L388.8,1394.9L389.0,1393.9L389.2,1392.5L389.3,1392.3M391.2,1375.7L391.4,1374.0L391.5,1372.4M393.6,1355.8L393.6,1355.6L393.9,1354.2L394.1,1353.2L394.3,1352.6M399.3,1335.7L399.6,1334.9L399.8,1334.1L400.0,1333.3L400.2,1332.5M404.7,1316.4L404.9,1315.6L405.2,1314.8L405.5,1314.0L405.7,1313.2M412.0,1296.5L412.4,1295.8L412.7,1295.0L413.0,1294.2L413.4,1293.5M420.9,1278.2L421.4,1277.5L421.8,1276.8L422.3,1276.1L422.7,1275.4M433.4,1261.9L434.0,1261.3L434.6,1260.7L435.2,1260.1L435.8,1259.5M449.4,1248.9L450.0,1248.4L450.7,1247.9L451.4,1247.4L452.1,1247.0M467.6,1237.6L468.2,1237.2L468.9,1236.6L469.5,1236.0L470.1,1235.5M480.8,1222.4L481.3,1221.8L481.8,1221.1L482.3,1220.4L482.8,1219.8M493.0,1205.7L493.5,1205.1L494.1,1204.5L494.7,1203.9L495.3,1203.3M509.7,1192.6L509.7,1192.6L510.5,1192.3L511.3,1192.1L512.1,1191.9L512.8,1191.8L512.9,1191.8M529.0,1193.7L529.0,1193.7L529.8,1194.0L530.5,1194.3L531.2,1194.6L532.0,1195.0L532.0,1195.0M545.5,1205.9L546.0,1206.5L546.6,1207.1L547.2,1207.7L547.7,1208.4M556.9,1223.0L557.4,1223.6L557.9,1224.3L558.4,1225.0L558.9,1225.6M571.0,1238.5L571.5,1239.1L572.1,1239.8L572.7,1240.5L573.1,1241.1M583.6,1255.6L584.0,1256.2L584.5,1256.9L585.0,1257.6L585.5,1258.2M595.1,1272.2L595.5,1272.9L596.0,1273.6L596.5,1274.3L596.9,1275.0M605.8,1288.8L606.3,1289.5L606.7,1290.2L607.2,1291.0L607.5,1291.6M616.9,1308.0L617.3,1308.6L617.9,1309.3L618.4,1310.0L619.0,1310.6M631.8,1321.9L632.3,1322.5L632.9,1323.1L633.4,1323.8L633.9,1324.4M643.3,1339.2L643.8,1339.8L644.3,1340.5L644.8,1341.2L645.3,1341.8M656.0,1354.8L656.5,1355.4L657.1,1356.0L657.7,1356.6L658.2,1357.2M669.8,1370.2L670.4,1370.8L671.0,1371.4L671.6,1372.0L672.2,1372.6M685.1,1384.6L685.7,1385.1L686.4,1385.7L687.1,1386.2L687.7,1386.7M701.7,1396.7L702.4,1397.1L703.1,1397.6L703.9,1398.1L704.5,1398.5M721.8,1408.7L722.4,1409.1L723.3,1409.5L724.2,1409.9L724.8,1410.3M743.2,1418.5L743.9,1418.7L744.8,1419.0L745.7,1419.3L746.4,1419.5M763.9,1422.9L764.6,1423.0L765.5,1423.1L766.4,1423.2L767.1,1423.3M784.8,1423.9L785.5,1423.8L786.4,1423.8L787.3,1423.8L788.0,1423.7M805.8,1421.7L806.5,1421.5L807.4,1421.4L808.2,1421.3L809.0,1421.1M825.8,1417.5L826.6,1417.3L827.4,1417.1L828.2,1416.9L829.0,1416.7M845.6,1411.3L846.3,1411.0L847.1,1410.7L847.9,1410.4L848.6,1410.1M863.5,1403.1L864.2,1402.8L865.0,1402.4L865.8,1402.0L866.5,1401.7M883.3,1393.8L883.3,1393.8L884.2,1393.4L885.0,1393.0L885.8,1392.6L886.3,1392.4M902.8,1384.0L903.5,1383.7L904.3,1383.3L905.0,1383.0L905.8,1382.7L905.8,1382.6M920.2,1376.9L920.9,1376.5L921.7,1376.2L922.8,1375.7L923.2,1375.5M938.9,1368.3L939.1,1368.1L940.3,1367.6L941.6,1367.0L941.9,1366.8M957.5,1359.5L958.2,1359.1L959.4,1358.5L960.5,1358.0M976.1,1350.7L976.5,1350.5L977.6,1350.0L978.5,1349.6L979.1,1349.3M995.6,1342.3L996.3,1342.0L997.1,1341.7L997.9,1341.4L998.6,1341.1M1014.7,1335.1L1015.4,1334.8L1016.2,1334.5L1017.0,1334.2L1017.7,1333.9M1034.4,1327.9L1035.2,1327.6L1036.0,1327.4L1036.8,1327.2L1037.6,1327.0L1037.6,1327.0M1053.4,1323.4L1053.4,1323.4L1054.2,1323.3L1055.0,1323.1L1055.8,1322.9L1056.6,1322.8M1074.1,1319.3L1074.8,1319.1L1075.7,1319.0L1076.6,1318.9L1077.3,1318.7M1095.1,1316.2L1095.8,1316.1L1096.7,1316.0L1097.5,1315.9L1098.3,1315.8M1115.3,1313.7L1116.1,1313.7L1116.9,1313.6L1117.8,1313.5L1118.5,1313.5M1136.0,1312.7L1136.7,1312.6L1137.6,1312.6L1138.5,1312.6L1139.2,1312.5M1157.0,1311.9L1157.7,1311.9L1158.6,1311.9L1159.4,1311.9L1160.2,1311.9M1177.2,1312.5L1178.0,1312.6L1178.8,1312.6L1179.6,1312.6L1180.4,1312.7M1197.4,1313.5L1198.2,1313.6L1199.0,1313.6L1199.9,1313.7L1200.6,1313.7M1218.2,1314.9L1218.9,1314.9L1219.8,1315.0L1220.7,1315.0L1221.4,1315.1M1239.1,1315.9L1239.8,1316.0L1240.7,1316.0L1241.5,1316.0L1242.3,1316.1M1259.4,1317.3L1260.0,1317.3L1261.0,1317.4L1262.4,1317.5L1262.6,1317.5M1279.6,1319.1L1281.2,1319.3L1282.9,1319.5M1299.8,1321.2L1300.0,1321.2L1301.4,1321.4L1302.4,1321.5L1303.0,1321.6M1320.8,1323.6L1321.5,1323.7L1322.4,1323.8L1323.3,1323.9L1324.0,1324.0M1341.5,1326.0L1342.2,1326.1L1343.1,1326.2L1344.0,1326.3L1344.7,1326.4M1362.2,1328.4L1362.9,1328.5L1363.8,1328.6L1364.7,1328.7L1365.4,1328.8M1382.7,1330.8L1383.4,1330.9L1384.3,1331.0L1385.2,1331.1L1385.9,1331.2M1403.4,1332.8L1404.1,1332.8L1405.0,1332.9L1405.8,1333.0L1406.6,1333.0M1423.6,1334.3L1424.4,1334.4L1425.2,1334.5L1426.1,1334.6L1426.8,1334.7M1444.6,1336.7L1445.3,1336.8L1446.2,1336.9L1447.0,1337.0L1447.8,1337.1M1464.8,1339.1L1465.6,1339.2L1466.4,1339.3L1467.2,1339.4L1468.0,1339.5M1485.1,1341.0L1485.8,1341.1L1486.7,1341.2L1487.6,1341.3L1488.3,1341.4M1506.5,1343.8L1507.2,1343.9L1508.1,1344.0L1508.9,1344.1L1509.7,1344.2M1526.7,1345.6L1527.4,1345.6L1528.3,1345.7L1529.4,1345.8L1529.9,1345.9M1556.5,1348.6L1557.0,1348.7L1558.1,1348.8L1559.0,1348.9L1559.7,1349.0M1576.7,1351.0L1577.5,1351.1L1578.3,1351.2L1579.2,1351.3L1579.9,1351.4M1597.4,1352.8L1598.1,1352.8L1599.0,1352.9L1599.9,1353.0L1600.6,1353.0M1618.4,1354.6L1619.1,1354.7L1620.0,1354.8L1620.8,1354.9L1621.6,1355.0M1638.6,1356.5L1639.4,1356.6L1640.2,1356.7L1641.1,1356.8L1641.8,1356.9M1659.4,1358.6L1660.1,1358.7L1661.0,1358.8L1661.9,1358.9L1662.6,1359.0M1679.8,1360.5L1680.5,1360.6L1681.4,1360.7L1682.3,1360.8L1683.0,1360.9M1700.5,1362.4L1701.2,1362.5L1702.1,1362.6L1702.9,1362.7L1703.7,1362.8M1720.8,1364.6L1721.5,1364.7L1722.4,1364.8L1723.3,1364.9L1724.0,1364.9M1741.5,1366.1L1742.2,1366.1L1743.1,1366.2L1743.9,1366.3L1744.7,1366.3M1761.7,1367.7L1762.5,1367.8L1763.3,1367.9L1764.2,1368.0L1764.9,1368.1M1782.5,1369.8L1783.2,1369.9L1784.1,1370.0L1785.0,1370.1L1785.7,1370.2M1803.4,1371.7L1804.1,1371.7L1805.0,1371.8L1805.9,1371.9L1806.6,1372.0M1823.9,1373.6L1824.6,1373.7L1825.5,1373.8L1826.4,1373.9L1827.1,1373.9M1844.3,1375.4L1845.0,1375.4L1845.9,1375.5L1846.8,1375.6L1847.5,1375.6M1865.2,1377.4L1865.9,1377.4L1866.8,1377.5L1867.7,1377.6L1868.4,1377.6M1885.5,1379.0L1886.3,1379.0L1887.1,1379.1L1888.0,1379.2L1888.7,1379.2M1906.1,1380.7L1906.8,1380.8L1907.7,1380.9L1908.6,1381.0L1909.3,1381.1M1926.6,1382.8L1927.3,1382.9L1928.2,1383.0L1929.1,1383.1L1929.8,1383.1M1947.5,1384.5L1948.0,1384.5L1949.1,1384.6L1950.7,1384.7M1967.9,1386.2L1969.8,1386.4L1971.2,1386.5M1988.4,1388.0L1988.9,1388.1L1991.6,1388.3L1991.7,1388.3M2008.9,1389.9L2010.5,1390.0L2012.1,1390.1M2029.2,1391.7L2031.2,1391.9L2032.4,1392.0M2049.5,1393.5L2051.9,1393.8L2052.7,1393.8M2069.8,1395.4L2071.4,1395.5L2073.0,1395.6M2090.9,1397.1L2092.5,1397.3L2094.1,1397.4M2112.0,1398.9L2113.6,1399.0L2115.2,1399.1M2132.4,1400.7L2133.7,1400.8L2135.7,1401.0M2152.9,1402.6L2155.0,1402.8L2156.2,1402.9M2173.4,1404.4L2175.0,1404.5L2176.6,1404.6M2194.1,1405.8L2194.5,1405.8L2196.2,1405.9L2197.3,1406.0M2214.8,1407.2L2216.4,1407.3L2218.0,1407.4M2235.4,1409.1L2237.1,1409.3L2238.7,1409.5M2256.1,1411.2L2257.7,1411.4L2259.3,1411.6M2276.3,1413.1L2277.9,1413.2L2279.6,1413.4M2296.6,1414.9L2298.2,1415.0L2299.8,1415.1M2317.2,1416.7L2318.9,1416.8L2320.5,1417.0M2337.9,1418.5L2338.4,1418.5L2339.5,1418.6L2340.0,1418.6L2340.4,1418.7L2340.9,1418.7L2341.1,1418.7" class="c" style="stroke-width:10.5"/>
<path d="M381.4,1397.9 V1503.8 M360.9,1397.9 H401.9 M360.9,1503.8 H401.9 M463.4,1221.5 V1428.6 M442.9,1221.5 H483.9 M442.9,1428.6 H483.9 M627.3,1301.7 V1490.7 M606.8,1301.7 H647.8 M606.8,1490.7 H647.8 M955.0,1303.8 V1367.9 M934.5,1303.8 H975.5 M934.5,1367.9 H975.5 M1282.8,1167.9 V1341.7 M1262.3,1167.9 H1303.3 M1262.3,1341.7 H1303.3 M2266.1,1264.0 V1420.5 M2245.6,1264.0 H2286.6 M2245.6,1420.5 H2286.6" stroke="#000" stroke-width="10" fill="none"/>
<circle cx="299.5" cy="1641.0" r="13.6" stroke="#000" stroke-width="10.5" fill="none"/>
<circle cx="381.4" cy="1450.0" r="13.6" stroke="#000" stroke-width="10.5" fill="none"/>
<circle cx="463.4" cy="1324.5" r="13.6" stroke="#000" stroke-width="10.5" fill="none"/>
<circle cx="627.3" cy="1396.4" r="13.6" stroke="#000" stroke-width="10.5" fill="none"/>
<circle cx="955.0" cy="1335.7" r="13.6" stroke="#000" stroke-width="10.5" fill="none"/>
<circle cx="1282.8" cy="1254.8" r="13.6" stroke="#000" stroke-width="10.5" fill="none"/>
<circle cx="2266.1" cy="1342.1" r="13.6" stroke="#000" stroke-width="10.5" fill="none"/>
<path d="M299.5,971.0 H2348.0 M299.5,1648.0 H2348.0 M299.5,971.0 V1648.0 M2348.0,971.0 V1648.0" stroke="#000" stroke-width="10.5" fill="none" stroke-linecap="butt"/>
<path d="M299.5,1648.0 V1627.5 M299.5,971.0 V991.5 M709.2,1648.0 V1627.5 M709.2,971.0 V991.5 M1118.9,1648.0 V1627.5 M1118.9,971.0 V991.5 M1528.6,1648.0 V1627.5 M1528.6,971.0 V991.5 M1938.3,1648.0 V1627.5 M1938.3,971.0 V991.5 M2348.0,1648.0 V1627.5 M2348.0,971.0 V991.5 M299.5,1648.0 H320.0 M2348.0,1648.0 H2327.5 M299.5,1357.5 H320.0 M2348.0,1357.5 H2327.5 M299.5,1067.0 H320.0 M2348.0,1067.0 H2327.5" stroke="#000" stroke-width="10.0" fill="none"/>
<text x="300.5" y="1730.0" text-anchor="middle" class="tl">0</text>
<text x="710.2" y="1730.0" text-anchor="middle" class="tl">5</text>
<text x="1119.9" y="1730.0" text-anchor="middle" class="tl">10</text>
<text x="1529.6" y="1730.0" text-anchor="middle" class="tl">15</text>
<text x="1939.3" y="1730.0" text-anchor="middle" class="tl">20</text>
<text x="2349.0" y="1730.0" text-anchor="middle" class="tl">25</text>
<text x="283.5" y="1675.3" text-anchor="end" class="tl">0</text>
<text x="283.5" y="1384.8" text-anchor="end" class="tl">500</text>
<text x="283.5" y="1094.3" text-anchor="end" class="tl">1000</text>
<text transform="translate(85.2,1309.5) rotate(-90)" text-anchor="middle" class="yl">IL10 (pg/ml)</text>
<text x="1322.5" y="1804" text-anchor="middle" class="xl">Time (hr)</text>
</svg>
</body></html>
